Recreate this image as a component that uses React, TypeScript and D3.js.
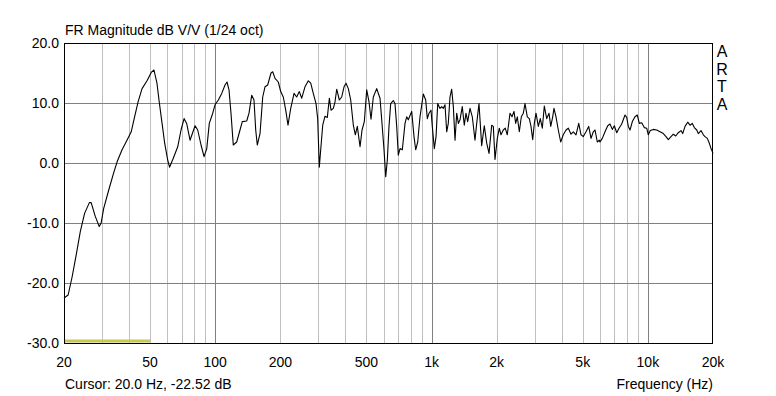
import React, { useEffect, useRef } from "react";
import * as d3 from "d3";

// FR magnitude, 1/24 oct smoothing
const freqs = [
  20, 20.9, 21.8, 22.7, 23.8, 24.9, 26.2, 26.7, 27.9, 29.1, 29.7, 30.5, 32.2, 33.9, 35.2, 37.1, 39.1, 40.9, 42.4, 44.0,
  45.9, 48.4, 50.6, 52.1, 53.8, 55.1, 56.8, 58.4, 60.3, 61.5, 64.0, 67.1, 69.5, 71.8, 73.8, 76.5, 80.7, 83.0, 86.0, 88.8,
  91.4, 93.9, 97.4, 99.8, 103.4, 107.2, 111, 113.4, 115.8, 118.3, 121.2, 125.7, 130.2, 133.4, 139.8, 143.3, 147.5, 151.1, 153.9, 156.5,
  161.1, 165.8, 169.9, 174.8, 181.1, 184.4, 189, 195.7, 200.8, 206.4, 211.8, 217, 223.4, 231.4, 238, 244.8, 251.2, 260, 269.4, 276.4,
  284, 292.4, 297.6, 302.8, 307.4, 314, 321.8, 329.8, 337, 343, 351.6, 358, 364.4, 374.8, 384.4, 394, 402.4, 412.4, 423, 435,
  444.4, 453.8, 467.2, 477.2, 489, 501.6, 514, 525, 538, 557.8, 577.8, 588.4, 603, 614, 624.6, 635.8, 647.4, 665.6, 677.8, 690.2,
  702, 715, 732.6, 754, 767.6, 780.8, 809.6, 829.8, 844.8, 863, 884.4, 916, 939.8, 956, 973.4, 994.4, 1008, 1030, 1049, 1068,
  1094, 1114, 1133, 1154, 1175, 1195, 1217, 1239, 1261, 1284, 1307, 1330, 1354, 1387, 1417, 1443, 1469, 1506, 1543, 1588,
  1617, 1657, 1705, 1753, 1799, 1844, 1897, 1930, 1965, 2014, 2057, 2094, 2146, 2192, 2239, 2305, 2355, 2405, 2449, 2491,
  2545, 2600, 2656, 2704, 2771, 2831, 2882, 2935, 2986, 3040, 3116, 3182, 3251, 3321, 3407, 3492, 3556, 3631, 3681, 3761,
  3854, 3954, 4064, 4184, 4288, 4413, 4522, 4654, 4790, 4908, 5030, 5176, 5327, 5460, 5595, 5698, 5838, 5964, 6008, 6157,
  6336, 6522, 6683, 6849, 6997, 7178, 7356, 7568, 7840, 7983, 8121, 8269, 8475, 8720, 8934, 9128, 9364, 9626, 9876, 10046,
  10262, 10597, 10986, 11378, 11784, 12128, 12430, 12791, 13109, 13448, 13826, 14230, 14489, 14850, 15283, 15662, 16050, 16395, 16820, 17109,
  17608, 18043, 18370, 18828, 19232, 19581, 19854, 20000,
];
const dbs = [
  -22.5, -22, -19, -15.6, -11.4, -8.4, -6.6, -6.6, -8.9, -10.6, -10, -7.6, -4.5, -1.7, 0.2, 2.2, 3.8, 5.2, 7.7, 10.2,
  12.4, 13.7, 15.1, 15.5, 13.3, 10.2, 6.6, 3.3, 0.5, -0.7, 0.8, 2.7, 5.5, 7.4, 6.6, 3.8, 6.2, 5.5, 3.0, 1.05,
  2.4, 6.6, 8.3, 9.7, 10.5, 11.6, 13, 13.5, 12.2, 8.3, 3.0, 3.5, 5.5, 6.9, 7.0, 8.3, 11.3, 10.5, 5.5, 3.0,
  4.9, 11, 12.7, 13, 15, 15.2, 14.1, 13.5, 11.9, 11, 8.8, 6.3, 9.1, 11.6, 11, 11.9, 10.8, 12.7, 13.7, 13.3,
  11.6, 9.9, 7.4, -0.7, 2.2, 6.3, 7.8, 7.6, 10.8, 8.8, 9.1, 10.2, 12.3, 10.5, 11, 12.7, 13.3, 12.4, 10.5, 6.3,
  4.7, 6.1, 2.7, 5.5, 6.9, 12.2, 10.2, 7.3, 11, 12.4, 10.8, 7.2, 2.2, -2.3, 0.5, 6.1, 9.9, 10.4, 9.9, 6.1,
  1.3, 2.4, 2.2, 6.6, 7.7, 7.2, 8.6, 4.4, 2.2, 3.5, 7.7, 11.5, 10.5, 7.4, 8.3, 8.8, 6.1, 2.4, 4.4, 9.9,
  9.1, 9.4, 9.1, 9.7, 5.2, 6.6, 11, 12.3, 9.4, 3.8, 8.3, 6.6, 7.2, 9.4, 6.3, 8.3, 6.9, 9.1, 7.7, 3.8,
  6.6, 9.9, 2.9, 6.2, 3.3, 1.6, 6.3, 6.1, 0.6, 4.1, 5.8, 4.7, 5.5, 5.8, 4.7, 8.3, 7.7, 8.6, 6.6, 7.7,
  5.2, 7.7, 8.3, 9.9, 7.7, 7.4, 6.1, 3.9, 6.6, 8.3, 6.1, 7.4, 5.8, 9.5, 7.4, 8.3, 6.1, 7.7, 9.1, 7.7,
  5.5, 3.5, 4.7, 5.5, 5.8, 4.8, 5.2, 4.7, 6.6, 4.7, 4.4, 5.2, 6.1, 4.1, 5.2, 5.5, 3.5, 3.8, 3.5, 4.1,
  5.2, 6.2, 6.5, 5.6, 6.2, 5.05, 5.8, 6.5, 8, 7.6, 6.1, 5.5, 6.9, 7.7, 8, 6.6, 6.7, 5.9, 5.8, 4.7,
  5.4, 5.6, 5.5, 5.2, 4.9, 4.4, 3.9, 4.4, 4.8, 4.5, 5.05, 5.4, 4.9, 6.1, 6.8, 6.3, 6.6, 5.9, 5.5, 4.9,
  5.4, 4.7, 4.4, 4.1, 3.3, 2.4, 1.9, 1.6,
];

const xTicks = [20, 50, 100, 200, 500, 1000, 2000, 5000, 10000, 20000];
const xTickLabels = ["20", "50", "100", "200", "500", "1k", "2k", "5k", "10k", "20k"];
const yTicks = [20, 10, 0, -10, -20, -30];

const TITLE = "FR Magnitude dB V/V (1/24 oct)";
const CURSOR = "Cursor: 20.0 Hz, -22.52 dB";
const XLABEL = "Frequency (Hz)";
const BRAND = ["A", "R", "T", "A"];

const W = 776, H = 396;
const FONT = "'Liberation Sans', Arial, sans-serif";

export default function App() {
  const ref = useRef<SVGSVGElement>(null);

  useEffect(() => {
    const svg = d3.select(ref.current);
    svg.selectAll("*").remove();

    const x = d3.scaleLog().domain([20, 20000]).range([64, 713]);
    const y = d3.scaleLinear().domain([-30, 20]).range([343, 43]);

    svg.append("rect").attr("width", W).attr("height", H).attr("fill", "#fff");

    // vertical grid: 1-2-3..9 per decade
    const minor: number[] = [];
    for (let dec = 10; dec <= 10000; dec *= 10) {
      for (let k = 1; k <= 9; k++) {
        const f = dec * k;
        if (f > 20 && f < 20000) minor.push(f);
      }
    }
    minor.forEach(f => {
      const major = f === 100 || f === 1000 || f === 10000;
      const px = Math.round(x(f)) + 0.5;
      svg.append("line")
        .attr("x1", px).attr("x2", px)
        .attr("y1", 43).attr("y2", 343)
        .attr("stroke", major ? "#808080" : "#c0c0c0")
        .attr("stroke-width", 1);
    });

    // horizontal grid
    yTicks.slice(1, -1).forEach(v => {
      const py = Math.round(y(v)) + 0.5;
      svg.append("line")
        .attr("x1", 64).attr("x2", 713)
        .attr("y1", py).attr("y2", py)
        .attr("stroke", "#808080")
        .attr("stroke-width", 1);
    });

    // yellow marker at bottom (20..50 Hz)
    svg.append("line")
      .attr("x1", x(20)).attr("x2", x(50))
      .attr("y1", 341).attr("y2", 341)
      .attr("stroke", "#c8c850")
      .attr("stroke-width", 3);

    // curve
    const line = d3.line<number>()
      .x((_, i) => x(freqs[i]))
      .y(d => y(d));

    svg.append("path")
      .datum(dbs)
      .attr("d", line)
      .attr("fill", "none")
      .attr("stroke", "#000")
      .attr("stroke-width", 1.1)
      .attr("stroke-linejoin", "round");

    // frame
    svg.append("rect")
      .attr("x", 64.5).attr("y", 43.5)
      .attr("width", 648).attr("height", 300)
      .attr("fill", "none")
      .attr("stroke", "#000")
      .attr("stroke-width", 1);

    const txt = (s: string, tx: number, ty: number, anchor = "start", size = 14) =>
      svg.append("text")
        .attr("x", tx).attr("y", ty)
        .attr("text-anchor", anchor)
        .attr("font-family", FONT)
        .attr("font-size", size)
        .attr("fill", "#000")
        .text(s);

    // y ticks
    yTicks.forEach(v => txt(v.toFixed(1), 59, y(v) + 5, "end"));

    // x ticks
    xTicks.forEach((f, i) => txt(xTickLabels[i], x(f), 367, "middle"));

    txt(TITLE, 65, 35, "start");
    txt(CURSOR, 65, 389, "start");
    txt(XLABEL, 713, 389, "end");

    BRAND.forEach((c, i) => txt(c, 722, 57 + i * 17.5, "middle", 16));
  }, []);

  return (
    <svg
      ref={ref}
      width={W}
      height={H}
      style={{ position: "absolute", left: 0, top: 0 }}
    />
  );
}
